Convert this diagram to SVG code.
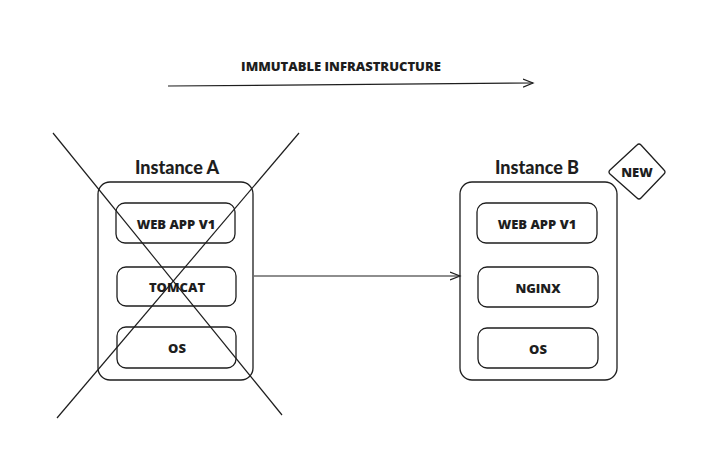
<svg xmlns="http://www.w3.org/2000/svg" width="716" height="467" viewBox="0 0 716 467">
<style>
.box{fill:none;stroke:#1e1e1e;stroke-width:1.3}
.ln{fill:none;stroke:#1e1e1e;stroke-width:1.2}
.t{font-family:"Open Sans",Lato,sans-serif;font-weight:800;fill:#1e1e1e;text-anchor:middle}
.lbl{font-size:13px}
.ttl{font-size:18px;font-family:Lato,"Open Sans",sans-serif;font-weight:900}
</style>
<defs>
<marker id="ah" markerWidth="12" markerHeight="10" refX="10" refY="5" orient="auto" markerUnits="userSpaceOnUse">
<path d="M0,1 L10,5 L0,9" fill="none" stroke="#1e1e1e" stroke-width="1.2"/>
</marker>
</defs>
<rect width="716" height="467" fill="#ffffff"/>
<text class="t lbl" x="341" y="71">IMMUTABLE INFRASTRUCTURE</text>
<g id="connectors">
<path class="ln" d="M168,86 L533,83" marker-end="url(#ah)"/>
<path class="ln" d="M254,276 L460,276" marker-end="url(#ah)"/>
</g>
<g id="instanceA">
<text class="t ttl" x="177" y="174">Instance A</text>
<rect class="box" x="98" y="182" width="155" height="198" rx="12"/>
</g>
<g id="webappA">
<rect class="box" x="116" y="203" width="119" height="40" rx="9"/>
<text class="t lbl" x="176" y="228.5">WEB APP V1</text>
</g>
<g id="tomcat">
<rect class="box" x="117" y="267" width="119" height="39" rx="9"/>
<text class="t lbl" x="177" y="292">TOMCAT</text>
</g>
<g id="osA">
<rect class="box" x="117" y="327" width="119" height="41" rx="9"/>
<text class="t lbl" x="177" y="353">OS</text>
</g>
<g id="cross">
<path class="ln" d="M53,133 L282,415"/>
<path class="ln" d="M299,133 L57,418"/>
</g>
<g id="instanceB">
<text class="t ttl" x="537" y="174">Instance B</text>
<rect class="box" x="460" y="182" width="157" height="198" rx="12"/>
</g>
<g id="webappB">
<rect class="box" x="477" y="203" width="120" height="40" rx="9"/>
<text class="t lbl" x="537" y="228.5">WEB APP V1</text>
</g>
<g id="nginx">
<rect class="box" x="478" y="267" width="120" height="40" rx="9"/>
<text class="t lbl" x="538" y="292.5">NGINX</text>
</g>
<g id="osB">
<rect class="box" x="478" y="328" width="120" height="40" rx="9"/>
<text class="t lbl" x="538" y="353.5">OS</text>
</g>
<g id="new">
<path class="box" d="M637,145 Q639,143 641,145 L664,170 Q666,172 664,174 L641,198 Q639,200 637,198 L610,174 Q608,172 610,170 Z"/>
<text class="t lbl" x="637" y="176.5">NEW</text>
</g>
</svg>
